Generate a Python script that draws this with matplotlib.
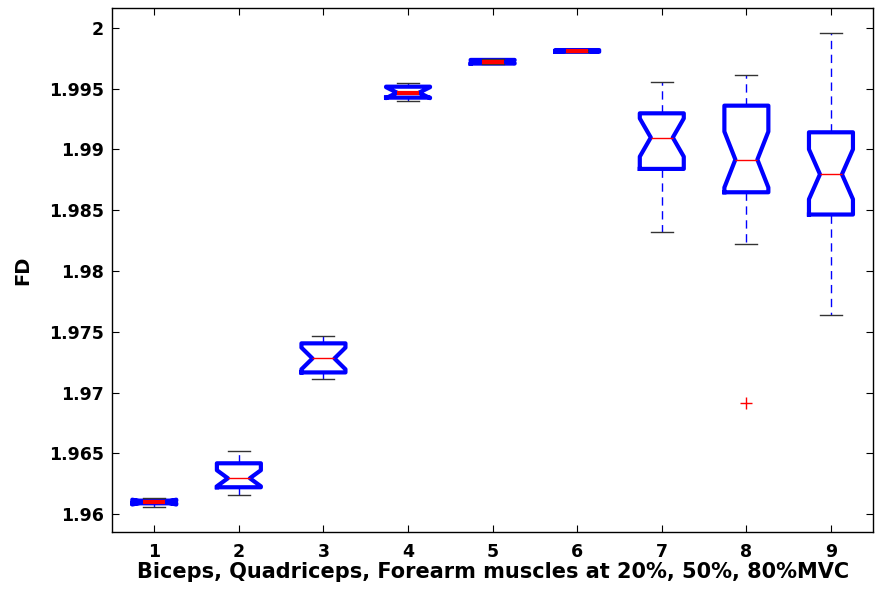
import matplotlib.pyplot as plt

plt.rcParams["font.family"] = ["DejaVu Sans"]
plt.rcParams["font.weight"] = "bold"

# values (FD per group)
groups = [1, 2, 3, 4, 5, 6, 7, 8, 9]
medians = [1.96100, 1.96296, 1.97281, 1.99466, 1.99721, 1.99809, 1.99097, 1.98916, 1.98795]
q1 = [1.96090, 1.96222, 1.97166, 1.99425, 1.99705, 1.99802, 1.98839, 1.98647, 1.98464]
q3 = [1.96112, 1.96419, 1.97405, 1.99515, 1.99735, 1.99816, 1.99296, 1.99359, 1.99140]
whisk_lo = [1.96060, 1.96156, 1.97109, 1.99400, 1.99700, 1.99800, 1.98324, 1.98223, 1.97640]
whisk_hi = [1.96130, 1.96517, 1.97462, 1.99548, 1.99740, 1.99818, 1.99556, 1.99614, 1.99959]
notch_half = [0.00020, 0.00066, 0.00089, 0.00045, 0.00012, 0.00006, 0.00157, 0.00230, 0.00205]
outliers = [[], [], [], [], [], [], [], [1.96914], []]

stats = []
for i in range(len(groups)):
    stats.append({
        "med": medians[i],
        "q1": q1[i],
        "q3": q3[i],
        "whislo": whisk_lo[i],
        "whishi": whisk_hi[i],
        "cilo": medians[i] - notch_half[i],
        "cihi": medians[i] + notch_half[i],
        "fliers": outliers[i],
    })

fig = plt.figure(figsize=(8.75, 5.91), dpi=100)
ax = fig.add_axes([0.128, 0.1, 0.87, 0.8865])

parts = ax.bxp(stats, positions=groups, widths=0.52, shownotches=True,
               boxprops=dict(color="blue", linewidth=3),
               medianprops=dict(color="red", linewidth=1),
               whiskerprops=dict(color="blue", linewidth=1, linestyle=(0, (6, 4))),
               capprops=dict(color="#333333", linewidth=1),
               flierprops=dict(marker="+", markeredgecolor="red", markersize=9, linestyle="none"))

# tiny boxes: median shows as a thick red bar
for i in [0, 3, 4, 5]:
    parts["medians"][i].set_linewidth(3)

ax.set_xlim(0.5, 9.5)
ax.set_ylim(1.95855, 2.00162)
ax.set_xticks(groups)
ax.set_xticklabels([str(g) for g in groups])
ax.set_yticks([1.96, 1.965, 1.97, 1.975, 1.98, 1.985, 1.99, 1.995, 2.0])
ax.set_yticklabels(["1.96", "1.965", "1.97", "1.975", "1.98", "1.985", "1.99", "1.995", "2"])
ax.tick_params(direction="in", length=5, top=True, right=True, labelsize=12.5, width=0.8)
ax.tick_params(axis="x", pad=8)
ax.tick_params(axis="y", pad=6)
for s in ax.spines.values():
    s.set_linewidth(1)

ax.set_xlabel("Biceps, Quadriceps, Forearm muscles at 20%, 50%, 80%MVC",
              fontsize=15, fontweight="bold", labelpad=1)
ax.set_ylabel("FD", fontsize=14, fontweight="bold", labelpad=12)

fig.savefig("out.png", dpi=100)
